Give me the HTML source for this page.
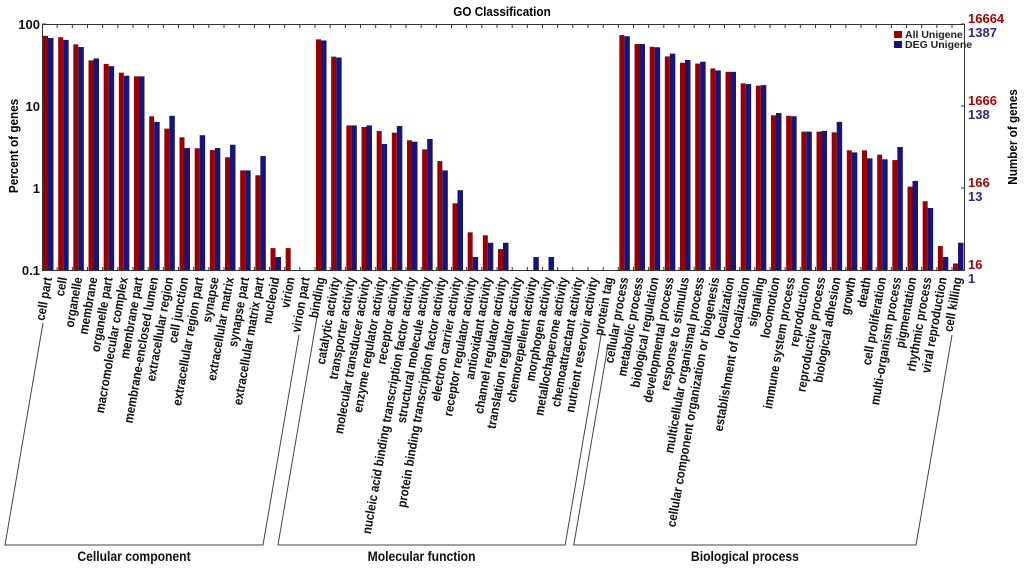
<!DOCTYPE html>
<html><head><meta charset="utf-8"><style>
html,body{margin:0;padding:0;background:#fff;}
svg{display:block;font-family:"Liberation Sans",Arial,sans-serif;}
</style></head><body>
<svg id="chart" width="1024" height="571" viewBox="0 0 1024 571" xmlns="http://www.w3.org/2000/svg">
<text x="502" y="16" text-anchor="middle" font-size="13" font-weight="bold" transform="translate(502,0) scale(0.9,1) translate(-502,0)">GO Classification</text>
<g id="plot"></g>
<rect x="42.5" y="24.5" width="922" height="246" fill="none" stroke="#333" stroke-width="1"/>
<text x="0" y="0" font-size="13" font-weight="bold" text-anchor="middle" transform="translate(18,146) rotate(-90) scale(0.9,1)">Percent of genes</text>
<text x="0" y="0" font-size="13" font-weight="bold" text-anchor="middle" transform="translate(1017,137) rotate(-90) scale(0.9,1)">Number of genes</text>
<g>
<rect x="894" y="31" width="8" height="7" fill="#9b0000"/>
<text x="905" y="38" font-size="10.5" font-weight="bold" fill="#222">All Unigene</text>
<rect x="894" y="41" width="8" height="7" fill="#15157a"/>
<text x="905" y="48" font-size="10.5" font-weight="bold" fill="#222">DEG Unigene</text>
</g>
</svg>
<script>
const categories = ["cell part","cell","organelle","membrane","organelle part","macromolecular complex","membrane part","membrane-enclosed lumen","extracellular region","cell junction","extracellular region part","synapse","extracellular matrix","synapse part","extracellular matrix part","nucleoid","virion","virion part",
"binding","catalytic activity","transporter activity","molecular transducer activity","enzyme regulator activity","receptor activity","nucleic acid binding transcription factor activity","structural molecule activity","protein binding transcription factor activity","electron carrier activity","receptor regulator activity","antioxidant activity","channel regulator activity","translation regulator activity","chemorepellent activity","morphogen activity","metallochaperone activity","chemoattractant activity","nutrient reservoir activity","protein tag",
"cellular process","metabolic process","biological regulation","developmental process","response to stimulus","multicellular organismal process","cellular component organization or biogenesis","localization","establishment of localization","signaling","locomotion","immune system process","reproduction","reproductive process","biological adhesion","growth","death","cell proliferation","multi-organism process","pigmentation","rhythmic process","viral reproduction","cell killing"];
const allUnigene = [71.6,69,56.5,36,32.6,25.5,23,7.5,5.3,4.15,3.05,2.9,2.37,1.64,1.43,0.185,0.185,0,
65,40,5.8,5.55,4.95,4.73,3.82,2.96,2.13,0.65,0.288,0.265,0.18,0,0,0,0,0,0,0,
73.3,57,52.7,40.3,33.7,32.9,28.7,26.1,18.9,17.7,7.7,7.6,4.87,4.87,4.77,2.88,2.88,2.55,2.19,1.04,0.69,0.196,0.12];
const degUnigene = [67.5,64,52.4,38,30.6,23.4,23,6.4,7.6,3.07,4.4,3.07,3.37,1.64,2.45,0.144,0,0,
63,39,5.8,5.8,3.44,5.7,3.67,3.96,1.64,0.94,0.144,0.215,0.215,0,0.144,0.144,0,0,0,0,
71,57,52,43.5,36.4,34.7,27.2,26.1,18.5,18,8.2,7.5,4.87,4.97,6.4,2.72,2.3,2.24,3.16,1.22,0.57,0.144,0.215];
const leftTicks = [100,10,1,0.1];
const leftTickLabels = ["100","10","1","0.1"];
const rightAllLabels = ["16664","1666","166","16"];
const rightDegLabels = ["1387","138","13","1"];
const groups = [["Cellular component",0,17],["Molecular function",18,37],["Biological process",38,60]];

const NS="http://www.w3.org/2000/svg";
const svg=document.getElementById('chart');
const plot=document.getElementById('plot');
const X0=43, STEP=(953-43)/60, BW=5;
const Y_TOP=24, Y_BOT=270;
function yScale(v){return Y_BOT-(Math.log10(v)+1)/3*(Y_BOT-Y_TOP);}
function xSlot(i){return X0+i*STEP;}
function mk(tag,attrs,parent){const e=document.createElementNS(NS,tag);for(const k in attrs)e.setAttribute(k,attrs[k]);(parent||svg).appendChild(e);return e;}

for(let i=1;i<categories.length;i++){
  const x=xSlot(i)-1;
  const t=mk('line',{x1:x,x2:x,y1:24.5,y2:28,stroke:'#333'},plot);
  
  
  const b=mk('line',{x1:x,x2:x,y1:270.5,y2:267,stroke:'#333'},plot);
  
  
}
categories.forEach((c,i)=>{
  const x=xSlot(i);
  if(allUnigene[i]>0){
    const y=yScale(allUnigene[i]);
    const r=mk('rect',{x:x,y:y,width:BW,height:Y_BOT-y,fill:'#9b0000'},plot);
    
    
  }
  if(degUnigene[i]>0){
    const y=yScale(degUnigene[i]);
    const r=mk('rect',{x:x+BW,y:y,width:BW+0.5,height:Y_BOT-y,fill:'#15157a'},plot);
    
    
  }
  const t=mk('text',{x:0,y:0,'font-size':13,'font-weight':'bold','text-anchor':'end',fill:'#111',
    transform:`translate(${x+BW+4},278) rotate(-80) scale(0.88,1)`});
  t.textContent=c;
  
  
});
leftTicks.forEach((v,i)=>{
  const y=yScale(v);
  const l=mk('line',{x1:42.5,x2:46,y1:y,y2:y,stroke:'#333'});
  
  
  const t=mk('text',{x:40,y:y+5,'font-size':13,'font-weight':'bold','text-anchor':'end',fill:'#111'});
  t.textContent=leftTickLabels[i];
  
  
  const r=mk('line',{x1:964.5,x2:961,y1:y,y2:y,stroke:'#333'});
  
  
  const a=mk('text',{x:968,y:y-1,'font-size':13,'font-weight':'bold',fill:'#b00000'});
  a.textContent=rightAllLabels[i];
  
  
  const d=mk('text',{x:968,y:y+13,'font-size':13,'font-weight':'bold',fill:'#2a2a8a'});
  d.textContent=rightDegLabels[i];
  
  
});
const tops=[[43,323,299,335],[317,317,602,330],[608,345,952,335]];
groups.forEach((g,k)=>{
  const [lx,ly,rx,ry]=tops[k];
  const lb=lx-38*(545-ly)/222, rb=rx-36*(545-ry)/210;
  const p=mk('polyline',{points:`${lx},${ly} ${lb},545 ${rb},545 ${rx},${ry}`,fill:'none',stroke:'#444','stroke-width':1});
  
  
  const cx=(lb+rb)/2;
  const t=mk('text',{x:0,y:0,'font-size':13.5,'font-weight':'bold','text-anchor':'middle',fill:'#111',transform:`translate(${cx},561) scale(0.9,1)`});
  t.textContent=g[0];
  
  
});
</script>
</body></html>
